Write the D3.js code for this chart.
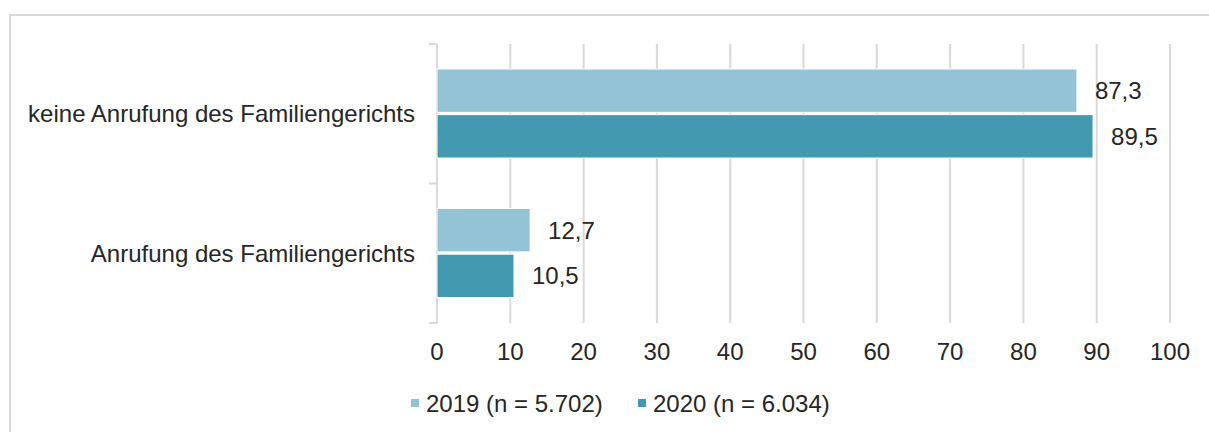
<!DOCTYPE html>
<html>
<head>
<meta charset="utf-8">
<script src="https://cdn.jsdelivr.net/npm/d3@7"></script>
<style>
  body { margin: 0; background: #fff; }
  svg text { font-family: "Liberation Sans", Arial, sans-serif; fill: #262626; }
</style>
</head>
<body>
<svg id="chart" width="1209" height="432"></svg>
<script>
'use strict';

var categories = ['keine Anrufung des Familiengerichts', 'Anrufung des Familiengerichts'],
    series = ['2019 (n = 5.702)', '2020 (n = 6.034)'],
    values2019 = [87.3, 12.7],
    values2020 = [89.5, 10.5],
    ticks = [0, 10, 20, 30, 40, 50, 60, 70, 80, 90, 100],
    colors = ['#93c3d4', '#4399b0'];

var svg = d3.select('#chart'),
    fontSize = 24;

// outer frame (only top and left edges visible)
svg.append('path')
  .attr('d', 'M10,434V15H1212')
  .attr('fill', 'none')
  .attr('stroke', '#d9d9d9')
  .attr('stroke-width', 2);

var x = d3.scaleLinear().domain([0, 100]).range([437, 1170]),
    y = d3.scaleBand().domain(categories).range([44, 323]),
    inner = d3.scaleBand().domain([0, 1]).range([25, 114]).paddingInner(0.05);

// grid lines
svg.append('g').selectAll('line')
  .data(ticks.slice(1))
  .enter().append('line')
  .attr('x1', function (d) { return x(d); })
  .attr('x2', function (d) { return x(d); })
  .attr('y1', 44).attr('y2', 323)
  .attr('stroke', '#d9d9d9').attr('stroke-width', 2);

// y axis with outer ticks
var yAxis = svg.append('g');
yAxis.append('line')
  .attr('x1', x(0)).attr('x2', x(0)).attr('y1', 44).attr('y2', 323)
  .attr('stroke', '#d9d9d9').attr('stroke-width', 2);
yAxis.selectAll('line.tick')
  .data([44, 183.5, 323])
  .enter().append('line')
  .attr('class', 'tick')
  .attr('x1', x(0) - 8).attr('x2', x(0))
  .attr('y1', function (d) { return d; }).attr('y2', function (d) { return d; })
  .attr('stroke', '#d9d9d9').attr('stroke-width', 2);

// category labels
svg.append('g').selectAll('text')
  .data(categories)
  .enter().append('text')
  .attr('x', 415)
  .attr('y', function (d) { return y(d) + y.bandwidth() / 2; })
  .attr('dy', '0.35em')
  .attr('text-anchor', 'end')
  .attr('font-size', fontSize)
  .text(function (d) { return d; });

// bars
var rows = [values2019, values2020];
rows.forEach(function (vals, s) {
  var g = svg.append('g');
  g.selectAll('rect')
    .data(vals)
    .enter().append('rect')
    .attr('x', x(0))
    .attr('y', function (d, i) { return y(categories[i]) + inner(s); })
    .attr('width', function (d) { return x(d) - x(0); })
    .attr('height', inner.bandwidth())
    .attr('fill', colors[s])
    .attr('stroke', '#fff')
    .attr('stroke-width', 1);
  g.selectAll('text')
    .data(vals)
    .enter().append('text')
    .attr('x', function (d) { return x(d) + 18; })
    .attr('y', function (d, i) { return y(categories[i]) + inner(s) + inner.bandwidth() / 2; })
    .attr('dy', '0.35em')
    .attr('font-size', fontSize)
    .text(function (d) { return d.toFixed(1).replace('.', ','); });
});

// x tick labels
svg.append('g').selectAll('text')
  .data(ticks)
  .enter().append('text')
  .attr('x', function (d) { return x(d); })
  .attr('y', 360)
  .attr('text-anchor', 'middle')
  .attr('font-size', fontSize)
  .text(function (d) { return d; });

// legend
var legendX = [411, 638];
var legend = svg.append('g').selectAll('g')
  .data(series)
  .enter().append('g')
  .attr('transform', function (d, i) { return 'translate(' + legendX[i] + ',0)'; });
legend.append('rect')
  .attr('x', 0).attr('y', 399)
  .attr('width', 8).attr('height', 8)
  .attr('fill', function (d, i) { return colors[i]; });
legend.append('text')
  .attr('x', 15).attr('y', 412)
  .attr('font-size', fontSize)
  .text(function (d) { return d; });
</script>
</body>
</html>
